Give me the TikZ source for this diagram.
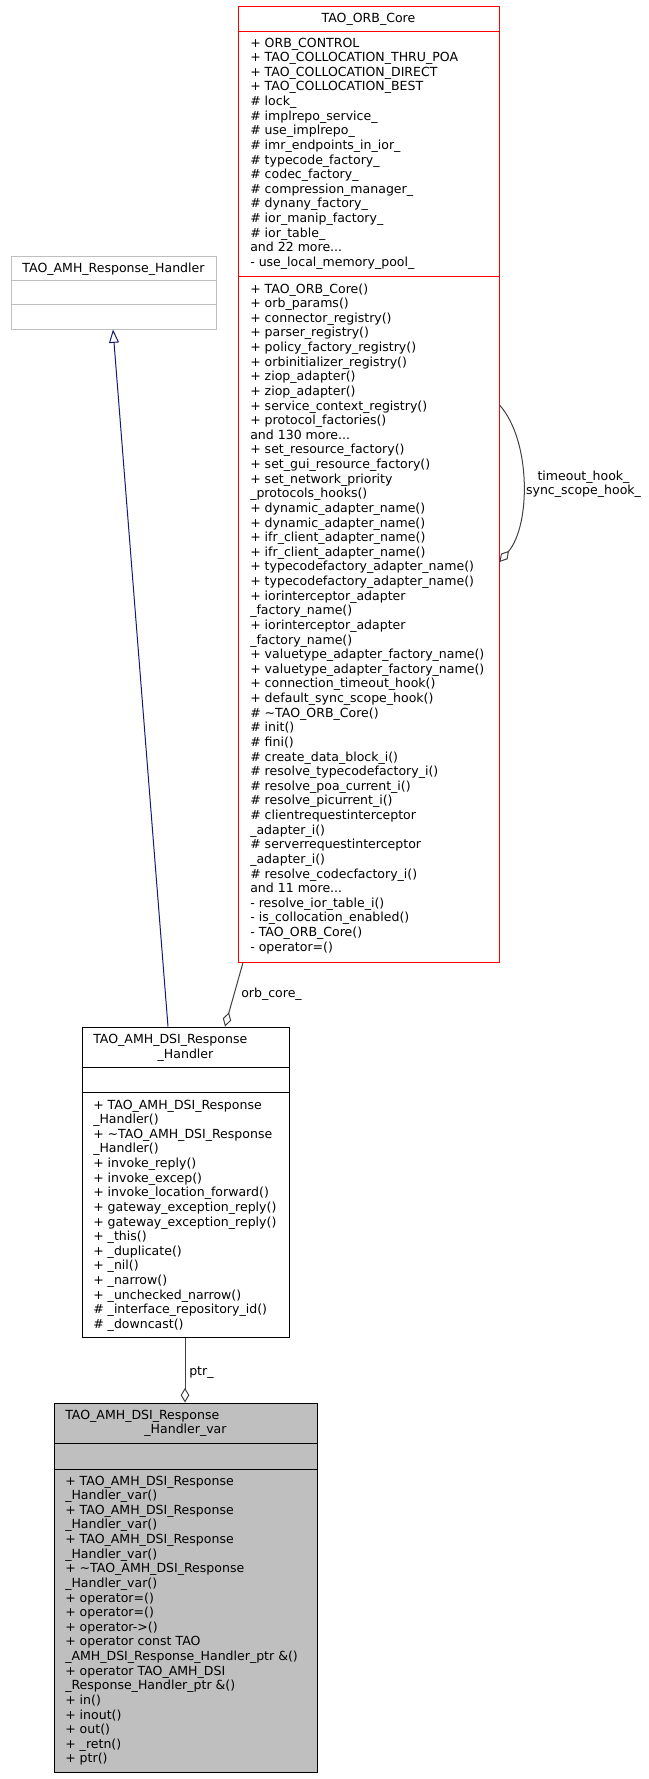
\documentclass[tikz,border=0pt]{standalone}
\usepackage{fontspec}
\setmainfont{DejaVu Sans}
\usetikzlibrary{arrows.meta,fit}
\definecolor{grey75}{HTML}{BFBFBF}
\definecolor{grey25}{HTML}{404040}
\definecolor{navyblue}{HTML}{191970}
\newcommand{\umlrows}[1]{\vtop{\baselineskip=10.97pt\lineskip=0pt\lineskiplimit=-20pt\halign{##\hfil\cr#1\crcr}}}
\newcommand{\umlcenter}[1]{\vtop{\baselineskip=10.5pt\lineskip=0pt\lineskiplimit=-20pt\halign{\hfil##\hfil\cr#1\crcr}}}
\begin{document}
\begin{tikzpicture}[x=0.75pt,y=-0.75pt,font=\fontsize{9.4}{10.97}\selectfont,
  box/.style={inner sep=0pt, line width=0.75pt},
  sepline/.style={line width=0.75pt},
  txt/.style={inner sep=0pt, anchor=base west},
  ctxt/.style={inner sep=0pt, anchor=base},
  agg/.style={draw=grey25, line width=0.75pt, -{Diamond[open,length=11pt,width=6.5pt]}},
  inh/.style={draw=navyblue, line width=0.75pt, -{Triangle[open,length=10pt,width=7.5pt]}}]
\useasboundingbox (0,0) rectangle (649,1779);

% ---------------- TAO_ORB_Core
\node[box, draw=red, fit={(238,6) (499,962)}] (orb) {};
\draw[sepline, red] (orb.west |- 0,31) -- (orb.east |- 0,31);
\draw[sepline, red] (orb.west |- 0,276) -- (orb.east |- 0,276);
\node[ctxt] (orbT) at (368.5,22) {TAO\_ORB\_Core};
\node[txt] (orbA) at (250,47) {\umlrows{
+ ORB\_CONTROL\cr
+ TAO\_COLLOCATION\_THRU\_POA\cr
+ TAO\_COLLOCATION\_DIRECT\cr
+ TAO\_COLLOCATION\_BEST\cr
\# lock\_\cr
\# implrepo\_service\_\cr
\# use\_implrepo\_\cr
\# imr\_endpoints\_in\_ior\_\cr
\# typecode\_factory\_\cr
\# codec\_factory\_\cr
\# compression\_manager\_\cr
\# dynany\_factory\_\cr
\# ior\_manip\_factory\_\cr
\# ior\_table\_\cr
and 22 more...\cr
- use\_local\_memory\_pool\_}};
\node[txt] (orbM) at (250,293) {\umlrows{
+ TAO\_ORB\_Core()\cr
+ orb\_params()\cr
+ connector\_registry()\cr
+ parser\_registry()\cr
+ policy\_factory\_registry()\cr
+ orbinitializer\_registry()\cr
+ ziop\_adapter()\cr
+ ziop\_adapter()\cr
+ service\_context\_registry()\cr
+ protocol\_factories()\cr
and 130 more...\cr
+ set\_resource\_factory()\cr
+ set\_gui\_resource\_factory()\cr
+ set\_network\_priority\cr
\_protocols\_hooks()\cr
+ dynamic\_adapter\_name()\cr
+ dynamic\_adapter\_name()\cr
+ ifr\_client\_adapter\_name()\cr
+ ifr\_client\_adapter\_name()\cr
+ typecodefactory\_adapter\_name()\cr
+ typecodefactory\_adapter\_name()\cr
+ iorinterceptor\_adapter\cr
\_factory\_name()\cr
+ iorinterceptor\_adapter\cr
\_factory\_name()\cr
+ valuetype\_adapter\_factory\_name()\cr
+ valuetype\_adapter\_factory\_name()\cr
+ connection\_timeout\_hook()\cr
+ default\_sync\_scope\_hook()\cr
\# \textasciitilde TAO\_ORB\_Core()\cr
\# init()\cr
\# fini()\cr
\# create\_data\_block\_i()\cr
\# resolve\_typecodefactory\_i()\cr
\# resolve\_poa\_current\_i()\cr
\# resolve\_picurrent\_i()\cr
\# clientrequestinterceptor\cr
\_adapter\_i()\cr
\# serverrequestinterceptor\cr
\_adapter\_i()\cr
\# resolve\_codecfactory\_i()\cr
and 11 more...\cr
- resolve\_ior\_table\_i()\cr
- is\_collocation\_enabled()\cr
- TAO\_ORB\_Core()\cr
- operator=()}};

% ---------------- TAO_AMH_Response_Handler
\node[box, draw=grey75, fit={(11,256) (216,329)}] (rh) {};
\draw[sepline, grey75] (rh.west |- 0,280) -- (rh.east |- 0,280);
\draw[sepline, grey75] (rh.west |- 0,304) -- (rh.east |- 0,304);
\node[ctxt] (rhT) at (113.5,272) {TAO\_AMH\_Response\_Handler};

% ---------------- TAO_AMH_DSI_Response_Handler
\node[box, draw=black, fit={(82,1027) (289,1337)}] (dsi) {};
\draw[sepline] (dsi.west |- 0,1067) -- (dsi.east |- 0,1067);
\draw[sepline] (dsi.west |- 0,1092) -- (dsi.east |- 0,1092);
\node[txt] (dsiT1) at (93,1043) {TAO\_AMH\_DSI\_Response};
\node[ctxt] (dsiT2) at (185.5,1058) {\_Handler};
\node[txt] (dsiM) at (93,1109) {\umlrows{
+ TAO\_AMH\_DSI\_Response\cr
\_Handler()\cr
+ \textasciitilde TAO\_AMH\_DSI\_Response\cr
\_Handler()\cr
+ invoke\_reply()\cr
+ invoke\_excep()\cr
+ invoke\_location\_forward()\cr
+ gateway\_exception\_reply()\cr
+ gateway\_exception\_reply()\cr
+ \_this()\cr
+ \_duplicate()\cr
+ \_nil()\cr
+ \_narrow()\cr
+ \_unchecked\_narrow()\cr
\# \_interface\_repository\_id()\cr
\# \_downcast()}};

% ---------------- TAO_AMH_DSI_Response_Handler_var
\node[box, draw=black, fill=grey75, fit={(54,1403) (317,1772)}] (var) {};
\draw[sepline] (var.west |- 0,1443) -- (var.east |- 0,1443);
\draw[sepline] (var.west |- 0,1469) -- (var.east |- 0,1469);
\node[txt] (varT1) at (65,1419) {TAO\_AMH\_DSI\_Response};
\node[ctxt] (varT2) at (185.5,1433) {\_Handler\_var};
\node[txt] (varM) at (65,1485) {\umlrows{
+ TAO\_AMH\_DSI\_Response\cr
\_Handler\_var()\cr
+ TAO\_AMH\_DSI\_Response\cr
\_Handler\_var()\cr
+ TAO\_AMH\_DSI\_Response\cr
\_Handler\_var()\cr
+ \textasciitilde TAO\_AMH\_DSI\_Response\cr
\_Handler\_var()\cr
+ operator=()\cr
+ operator=()\cr
+ operator->()\cr
+ operator const TAO\cr
\_AMH\_DSI\_Response\_Handler\_ptr \&()\cr
+ operator TAO\_AMH\_DSI\cr
\_Response\_Handler\_ptr \&()\cr
+ in()\cr
+ inout()\cr
+ out()\cr
+ \_retn()\cr
+ ptr()}};

% ---------------- connectors
\draw[inh] (dsi.north -| 168,0) -- (rh.south -| 113,0);
\draw[agg] (orb.south -| 243,0) -- (dsi.north -| 225,0);
\node[txt] (lblOrb) at (241,997) {orb\_core\_};
\draw[agg] (dsi.south -| 185,0) -- (var.north -| 185,0);
\node[txt] (lblPtr) at (189,1375) {ptr\_};
\draw[agg] (orb.east |- 0,405) .. controls (531,440) and (531,525) .. (orb.east |- 0,562);
\node[ctxt] (lblHook) at (583.5,480) {\umlcenter{timeout\_hook\_\cr sync\_scope\_hook\_}};
\end{tikzpicture}
\end{document}
